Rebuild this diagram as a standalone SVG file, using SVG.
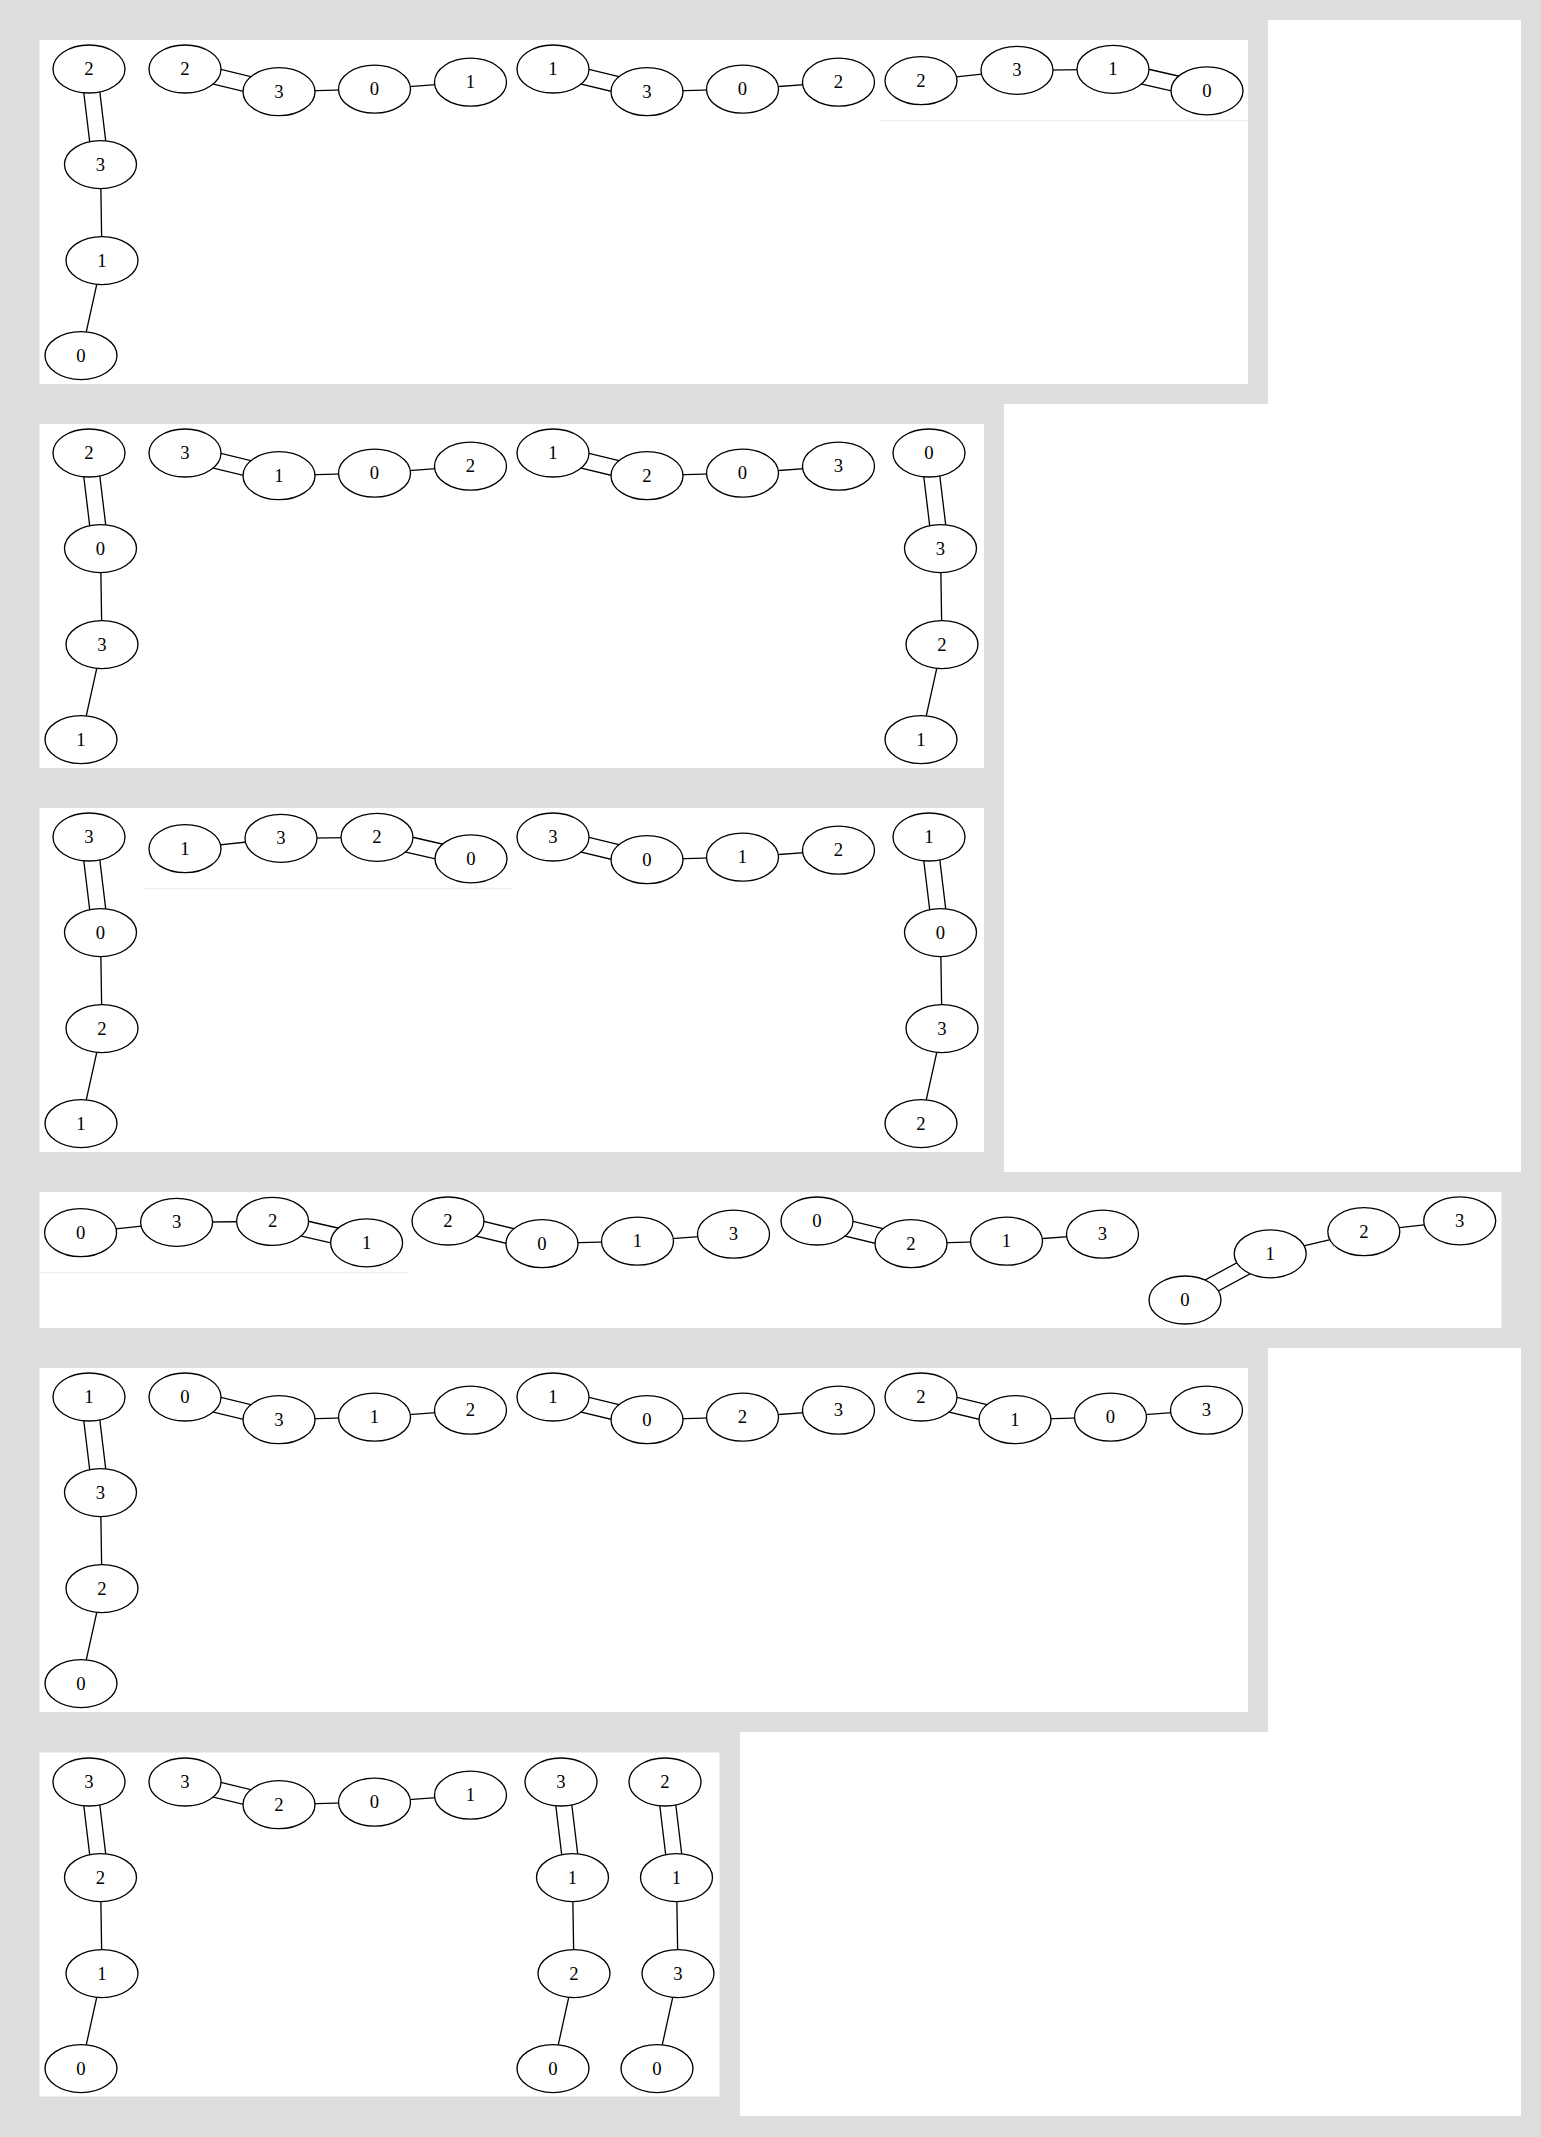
<svg xmlns="http://www.w3.org/2000/svg" xmlns:xlink="http://www.w3.org/1999/xlink" width="1541" height="2137" viewBox="0 0 1541 2137">
<style>
.bg{fill:#dedede}
.wh{fill:#ffffff}
.faint{stroke:#eeeeee;stroke-width:1.3;fill:none}
.edges path{stroke:#000;stroke-width:1.33;fill:none}
.node ellipse{fill:#fff;stroke:#000;stroke-width:1.33}
.node text{font-family:"Liberation Serif","Times New Roman",serif;font-size:18.67px;text-anchor:middle;fill:#000}
</style>
<g id="background">
<rect class="bg" x="0" y="0" width="1541" height="2137"/>
<rect class="wh" x="1004" y="20" width="517" height="1152"/>
<rect class="bg" x="20" y="20" width="1248" height="384"/>
<rect class="wh" x="740" y="1348" width="781" height="768"/>
<rect class="bg" x="20" y="1348" width="1248" height="384"/>
</g>
<g id="panels">
<rect id="panel1" class="wh" x="39.5" y="40" width="1208.5" height="344"/>
<rect id="panel2" class="wh" x="39.5" y="424" width="944.5" height="344"/>
<rect id="panel3" class="wh" x="39.5" y="808" width="944.5" height="344"/>
<rect id="panel4" class="wh" x="39.5" y="1192" width="1462" height="136"/>
<rect id="panel5" class="wh" x="39.5" y="1368" width="1208.5" height="344"/>
<rect id="panel6" class="wh" x="39.5" y="1752.5" width="680" height="344"/>
<path class="faint" d="M880,120.5H1248"/>
<path class="faint" d="M144,888.5H512"/>
<path class="faint" d="M39.5,1272.5H407.6"/>
</g>
<g id="connectors" class="edges">
<!-- P1 -->
<g transform="translate(89,40)"><path d="M-7.94,29.96L3.56,125.56M7.94,28.04L19.44,123.64M11.5,124.6L13,220.6M13,220.6L-8,315.6"/></g>
<g transform="translate(185,40)"><path d="M-1.88,36.78L92.12,59.48M1.88,21.22L95.88,43.92M94,51.7L189.5,49.2M189.5,49.2L285.5,42.2"/></g>
<g transform="translate(553,40)"><path d="M-1.88,36.78L92.12,59.48M1.88,21.22L95.88,43.92M94,51.7L189.5,49.2M189.5,49.2L285.5,42.2"/></g>
<g transform="translate(921,40)"><path d="M0,40.7L96,30.3M96,30.3L192,29.3M190.22,37.1L284.22,58.6M193.78,21.5L287.78,43"/></g>
<!-- P2 -->
<g transform="translate(89,424)"><path d="M-7.94,29.96L3.56,125.56M7.94,28.04L19.44,123.64M11.5,124.6L13,220.6M13,220.6L-8,315.6"/></g>
<g transform="translate(185,424)"><path d="M-1.88,36.78L92.12,59.48M1.88,21.22L95.88,43.92M94,51.7L189.5,49.2M189.5,49.2L285.5,42.2"/></g>
<g transform="translate(553,424)"><path d="M-1.88,36.78L92.12,59.48M1.88,21.22L95.88,43.92M94,51.7L189.5,49.2M189.5,49.2L285.5,42.2"/></g>
<g transform="translate(929,424)"><path d="M-7.94,29.96L3.56,125.56M7.94,28.04L19.44,123.64M11.5,124.6L13,220.6M13,220.6L-8,315.6"/></g>
<!-- P3 -->
<g transform="translate(89,808)"><path d="M-7.94,29.96L3.56,125.56M7.94,28.04L19.44,123.64M11.5,124.6L13,220.6M13,220.6L-8,315.6"/></g>
<g transform="translate(185,808)"><path d="M0,40.7L96,30.3M96,30.3L192,29.3M190.22,37.1L284.22,58.6M193.78,21.5L287.78,43"/></g>
<g transform="translate(553,808)"><path d="M-1.88,36.78L92.12,59.48M1.88,21.22L95.88,43.92M94,51.7L189.5,49.2M189.5,49.2L285.5,42.2"/></g>
<g transform="translate(929,808)"><path d="M-7.94,29.96L3.56,125.56M7.94,28.04L19.44,123.64M11.5,124.6L13,220.6M13,220.6L-8,315.6"/></g>
<!-- P4 -->
<g transform="translate(80.6,1192)"><path d="M0,40.7L96,30.3M96,30.3L192,29.3M190.22,37.1L284.22,58.6M193.78,21.5L287.78,43"/></g>
<g transform="translate(448,1192)"><path d="M-1.88,36.78L92.12,59.48M1.88,21.22L95.88,43.92M94,51.7L189.5,49.2M189.5,49.2L285.5,42.2"/></g>
<g transform="translate(817,1192)"><path d="M-1.88,36.78L92.12,59.48M1.88,21.22L95.88,43.92M94,51.7L189.5,49.2M189.5,49.2L285.5,42.2"/></g>
<g><path d="M1188.81,1307.03L1274.01,1260.83M1181.19,1292.97L1266.39,1246.77M1270.2,1253.8L1363.8,1231.7M1363.8,1231.7L1459.7,1220.8"/></g>
<!-- P5 -->
<g transform="translate(89,1368)"><path d="M-7.94,29.96L3.56,125.56M7.94,28.04L19.44,123.64M11.5,124.6L13,220.6M13,220.6L-8,315.6"/></g>
<g transform="translate(185,1368)"><path d="M-1.88,36.78L92.12,59.48M1.88,21.22L95.88,43.92M94,51.7L189.5,49.2M189.5,49.2L285.5,42.2"/></g>
<g transform="translate(553,1368)"><path d="M-1.88,36.78L92.12,59.48M1.88,21.22L95.88,43.92M94,51.7L189.5,49.2M189.5,49.2L285.5,42.2"/></g>
<g transform="translate(921,1368)"><path d="M-1.88,36.78L92.12,59.48M1.88,21.22L95.88,43.92M94,51.7L189.5,49.2M189.5,49.2L285.5,42.2"/></g>
<!-- P6 -->
<g transform="translate(89,1753)"><path d="M-7.94,29.96L3.56,125.56M7.94,28.04L19.44,123.64M11.5,124.6L13,220.6M13,220.6L-8,315.6"/></g>
<g transform="translate(185,1753)"><path d="M-1.88,36.78L92.12,59.48M1.88,21.22L95.88,43.92M94,51.7L189.5,49.2M189.5,49.2L285.5,42.2"/></g>
<g transform="translate(561,1753)"><path d="M-7.94,29.96L3.56,125.56M7.94,28.04L19.44,123.64M11.5,124.6L13,220.6M13,220.6L-8,315.6"/></g>
<g transform="translate(665,1753)"><path d="M-7.94,29.96L3.56,125.56M7.94,28.04L19.44,123.64M11.5,124.6L13,220.6M13,220.6L-8,315.6"/></g>
</g>
<g id="nodes">
<!-- P1 -->
<g id="p1a1" class="node" transform="translate(89,69)"><ellipse rx="36" ry="24"/><text y="6">2</text></g>
<g id="p1a2" class="node" transform="translate(100.5,164.6)"><ellipse rx="36" ry="24"/><text y="6">3</text></g>
<g id="p1a3" class="node" transform="translate(102,260.6)"><ellipse rx="36" ry="24"/><text y="6">1</text></g>
<g id="p1a4" class="node" transform="translate(81,355.6)"><ellipse rx="36" ry="24"/><text y="6">0</text></g>
<g id="p1b1" class="node" transform="translate(185,69)"><ellipse rx="36" ry="24"/><text y="6">2</text></g>
<g id="p1b2" class="node" transform="translate(279,91.7)"><ellipse rx="36" ry="24"/><text y="6">3</text></g>
<g id="p1b3" class="node" transform="translate(374.5,89.2)"><ellipse rx="36" ry="24"/><text y="6">0</text></g>
<g id="p1b4" class="node" transform="translate(470.5,82.2)"><ellipse rx="36" ry="24"/><text y="6">1</text></g>
<g id="p1c1" class="node" transform="translate(553,69)"><ellipse rx="36" ry="24"/><text y="6">1</text></g>
<g id="p1c2" class="node" transform="translate(647,91.7)"><ellipse rx="36" ry="24"/><text y="6">3</text></g>
<g id="p1c3" class="node" transform="translate(742.5,89.2)"><ellipse rx="36" ry="24"/><text y="6">0</text></g>
<g id="p1c4" class="node" transform="translate(838.5,82.2)"><ellipse rx="36" ry="24"/><text y="6">2</text></g>
<g id="p1d1" class="node" transform="translate(921,80.7)"><ellipse rx="36" ry="24"/><text y="6">2</text></g>
<g id="p1d2" class="node" transform="translate(1017,70.3)"><ellipse rx="36" ry="24"/><text y="6">3</text></g>
<g id="p1d3" class="node" transform="translate(1113,69.3)"><ellipse rx="36" ry="24"/><text y="6">1</text></g>
<g id="p1d4" class="node" transform="translate(1207,90.8)"><ellipse rx="36" ry="24"/><text y="6">0</text></g>
<!-- P2 -->
<g id="p2a1" class="node" transform="translate(89,453)"><ellipse rx="36" ry="24"/><text y="6">2</text></g>
<g id="p2a2" class="node" transform="translate(100.5,548.6)"><ellipse rx="36" ry="24"/><text y="6">0</text></g>
<g id="p2a3" class="node" transform="translate(102,644.6)"><ellipse rx="36" ry="24"/><text y="6">3</text></g>
<g id="p2a4" class="node" transform="translate(81,739.6)"><ellipse rx="36" ry="24"/><text y="6">1</text></g>
<g id="p2b1" class="node" transform="translate(185,453)"><ellipse rx="36" ry="24"/><text y="6">3</text></g>
<g id="p2b2" class="node" transform="translate(279,475.7)"><ellipse rx="36" ry="24"/><text y="6">1</text></g>
<g id="p2b3" class="node" transform="translate(374.5,473.2)"><ellipse rx="36" ry="24"/><text y="6">0</text></g>
<g id="p2b4" class="node" transform="translate(470.5,466.2)"><ellipse rx="36" ry="24"/><text y="6">2</text></g>
<g id="p2c1" class="node" transform="translate(553,453)"><ellipse rx="36" ry="24"/><text y="6">1</text></g>
<g id="p2c2" class="node" transform="translate(647,475.7)"><ellipse rx="36" ry="24"/><text y="6">2</text></g>
<g id="p2c3" class="node" transform="translate(742.5,473.2)"><ellipse rx="36" ry="24"/><text y="6">0</text></g>
<g id="p2c4" class="node" transform="translate(838.5,466.2)"><ellipse rx="36" ry="24"/><text y="6">3</text></g>
<g id="p2d1" class="node" transform="translate(929,453)"><ellipse rx="36" ry="24"/><text y="6">0</text></g>
<g id="p2d2" class="node" transform="translate(940.5,548.6)"><ellipse rx="36" ry="24"/><text y="6">3</text></g>
<g id="p2d3" class="node" transform="translate(942,644.6)"><ellipse rx="36" ry="24"/><text y="6">2</text></g>
<g id="p2d4" class="node" transform="translate(921,739.6)"><ellipse rx="36" ry="24"/><text y="6">1</text></g>
<!-- P3 -->
<g id="p3a1" class="node" transform="translate(89,837)"><ellipse rx="36" ry="24"/><text y="6">3</text></g>
<g id="p3a2" class="node" transform="translate(100.5,932.6)"><ellipse rx="36" ry="24"/><text y="6">0</text></g>
<g id="p3a3" class="node" transform="translate(102,1028.6)"><ellipse rx="36" ry="24"/><text y="6">2</text></g>
<g id="p3a4" class="node" transform="translate(81,1123.6)"><ellipse rx="36" ry="24"/><text y="6">1</text></g>
<g id="p3b1" class="node" transform="translate(185,848.7)"><ellipse rx="36" ry="24"/><text y="6">1</text></g>
<g id="p3b2" class="node" transform="translate(281,838.3)"><ellipse rx="36" ry="24"/><text y="6">3</text></g>
<g id="p3b3" class="node" transform="translate(377,837.3)"><ellipse rx="36" ry="24"/><text y="6">2</text></g>
<g id="p3b4" class="node" transform="translate(471,858.8)"><ellipse rx="36" ry="24"/><text y="6">0</text></g>
<g id="p3c1" class="node" transform="translate(553,837)"><ellipse rx="36" ry="24"/><text y="6">3</text></g>
<g id="p3c2" class="node" transform="translate(647,859.7)"><ellipse rx="36" ry="24"/><text y="6">0</text></g>
<g id="p3c3" class="node" transform="translate(742.5,857.2)"><ellipse rx="36" ry="24"/><text y="6">1</text></g>
<g id="p3c4" class="node" transform="translate(838.5,850.2)"><ellipse rx="36" ry="24"/><text y="6">2</text></g>
<g id="p3d1" class="node" transform="translate(929,837)"><ellipse rx="36" ry="24"/><text y="6">1</text></g>
<g id="p3d2" class="node" transform="translate(940.5,932.6)"><ellipse rx="36" ry="24"/><text y="6">0</text></g>
<g id="p3d3" class="node" transform="translate(942,1028.6)"><ellipse rx="36" ry="24"/><text y="6">3</text></g>
<g id="p3d4" class="node" transform="translate(921,1123.6)"><ellipse rx="36" ry="24"/><text y="6">2</text></g>
<!-- P4 -->
<g id="p4a1" class="node" transform="translate(80.6,1232.7)"><ellipse rx="36" ry="24"/><text y="6">0</text></g>
<g id="p4a2" class="node" transform="translate(176.6,1222.3)"><ellipse rx="36" ry="24"/><text y="6">3</text></g>
<g id="p4a3" class="node" transform="translate(272.6,1221.3)"><ellipse rx="36" ry="24"/><text y="6">2</text></g>
<g id="p4a4" class="node" transform="translate(366.6,1242.8)"><ellipse rx="36" ry="24"/><text y="6">1</text></g>
<g id="p4b1" class="node" transform="translate(448,1221)"><ellipse rx="36" ry="24"/><text y="6">2</text></g>
<g id="p4b2" class="node" transform="translate(542,1243.7)"><ellipse rx="36" ry="24"/><text y="6">0</text></g>
<g id="p4b3" class="node" transform="translate(637.5,1241.2)"><ellipse rx="36" ry="24"/><text y="6">1</text></g>
<g id="p4b4" class="node" transform="translate(733.5,1234.2)"><ellipse rx="36" ry="24"/><text y="6">3</text></g>
<g id="p4c1" class="node" transform="translate(817,1221)"><ellipse rx="36" ry="24"/><text y="6">0</text></g>
<g id="p4c2" class="node" transform="translate(911,1243.7)"><ellipse rx="36" ry="24"/><text y="6">2</text></g>
<g id="p4c3" class="node" transform="translate(1006.5,1241.2)"><ellipse rx="36" ry="24"/><text y="6">1</text></g>
<g id="p4c4" class="node" transform="translate(1102.5,1234.2)"><ellipse rx="36" ry="24"/><text y="6">3</text></g>
<g id="p4d1" class="node" transform="translate(1185,1300)"><ellipse rx="36" ry="24"/><text y="6">0</text></g>
<g id="p4d2" class="node" transform="translate(1270.2,1253.8)"><ellipse rx="36" ry="24"/><text y="6">1</text></g>
<g id="p4d3" class="node" transform="translate(1363.8,1231.7)"><ellipse rx="36" ry="24"/><text y="6">2</text></g>
<g id="p4d4" class="node" transform="translate(1459.7,1220.8)"><ellipse rx="36" ry="24"/><text y="6">3</text></g>
<!-- P5 -->
<g id="p5a1" class="node" transform="translate(89,1397)"><ellipse rx="36" ry="24"/><text y="6">1</text></g>
<g id="p5a2" class="node" transform="translate(100.5,1492.6)"><ellipse rx="36" ry="24"/><text y="6">3</text></g>
<g id="p5a3" class="node" transform="translate(102,1588.6)"><ellipse rx="36" ry="24"/><text y="6">2</text></g>
<g id="p5a4" class="node" transform="translate(81,1683.6)"><ellipse rx="36" ry="24"/><text y="6">0</text></g>
<g id="p5b1" class="node" transform="translate(185,1397)"><ellipse rx="36" ry="24"/><text y="6">0</text></g>
<g id="p5b2" class="node" transform="translate(279,1419.7)"><ellipse rx="36" ry="24"/><text y="6">3</text></g>
<g id="p5b3" class="node" transform="translate(374.5,1417.2)"><ellipse rx="36" ry="24"/><text y="6">1</text></g>
<g id="p5b4" class="node" transform="translate(470.5,1410.2)"><ellipse rx="36" ry="24"/><text y="6">2</text></g>
<g id="p5c1" class="node" transform="translate(553,1397)"><ellipse rx="36" ry="24"/><text y="6">1</text></g>
<g id="p5c2" class="node" transform="translate(647,1419.7)"><ellipse rx="36" ry="24"/><text y="6">0</text></g>
<g id="p5c3" class="node" transform="translate(742.5,1417.2)"><ellipse rx="36" ry="24"/><text y="6">2</text></g>
<g id="p5c4" class="node" transform="translate(838.5,1410.2)"><ellipse rx="36" ry="24"/><text y="6">3</text></g>
<g id="p5d1" class="node" transform="translate(921,1397)"><ellipse rx="36" ry="24"/><text y="6">2</text></g>
<g id="p5d2" class="node" transform="translate(1015,1419.7)"><ellipse rx="36" ry="24"/><text y="6">1</text></g>
<g id="p5d3" class="node" transform="translate(1110.5,1417.2)"><ellipse rx="36" ry="24"/><text y="6">0</text></g>
<g id="p5d4" class="node" transform="translate(1206.5,1410.2)"><ellipse rx="36" ry="24"/><text y="6">3</text></g>
<!-- P6 -->
<g id="p6a1" class="node" transform="translate(89,1782)"><ellipse rx="36" ry="24"/><text y="6">3</text></g>
<g id="p6a2" class="node" transform="translate(100.5,1877.6)"><ellipse rx="36" ry="24"/><text y="6">2</text></g>
<g id="p6a3" class="node" transform="translate(102,1973.6)"><ellipse rx="36" ry="24"/><text y="6">1</text></g>
<g id="p6a4" class="node" transform="translate(81,2068.6)"><ellipse rx="36" ry="24"/><text y="6">0</text></g>
<g id="p6b1" class="node" transform="translate(185,1782)"><ellipse rx="36" ry="24"/><text y="6">3</text></g>
<g id="p6b2" class="node" transform="translate(279,1804.7)"><ellipse rx="36" ry="24"/><text y="6">2</text></g>
<g id="p6b3" class="node" transform="translate(374.5,1802.2)"><ellipse rx="36" ry="24"/><text y="6">0</text></g>
<g id="p6b4" class="node" transform="translate(470.5,1795.2)"><ellipse rx="36" ry="24"/><text y="6">1</text></g>
<g id="p6c1" class="node" transform="translate(561,1782)"><ellipse rx="36" ry="24"/><text y="6">3</text></g>
<g id="p6c2" class="node" transform="translate(572.5,1877.6)"><ellipse rx="36" ry="24"/><text y="6">1</text></g>
<g id="p6c3" class="node" transform="translate(574,1973.6)"><ellipse rx="36" ry="24"/><text y="6">2</text></g>
<g id="p6c4" class="node" transform="translate(553,2068.6)"><ellipse rx="36" ry="24"/><text y="6">0</text></g>
<g id="p6d1" class="node" transform="translate(665,1782)"><ellipse rx="36" ry="24"/><text y="6">2</text></g>
<g id="p6d2" class="node" transform="translate(676.5,1877.6)"><ellipse rx="36" ry="24"/><text y="6">1</text></g>
<g id="p6d3" class="node" transform="translate(678,1973.6)"><ellipse rx="36" ry="24"/><text y="6">3</text></g>
<g id="p6d4" class="node" transform="translate(657,2068.6)"><ellipse rx="36" ry="24"/><text y="6">0</text></g>
</g>
</svg>
